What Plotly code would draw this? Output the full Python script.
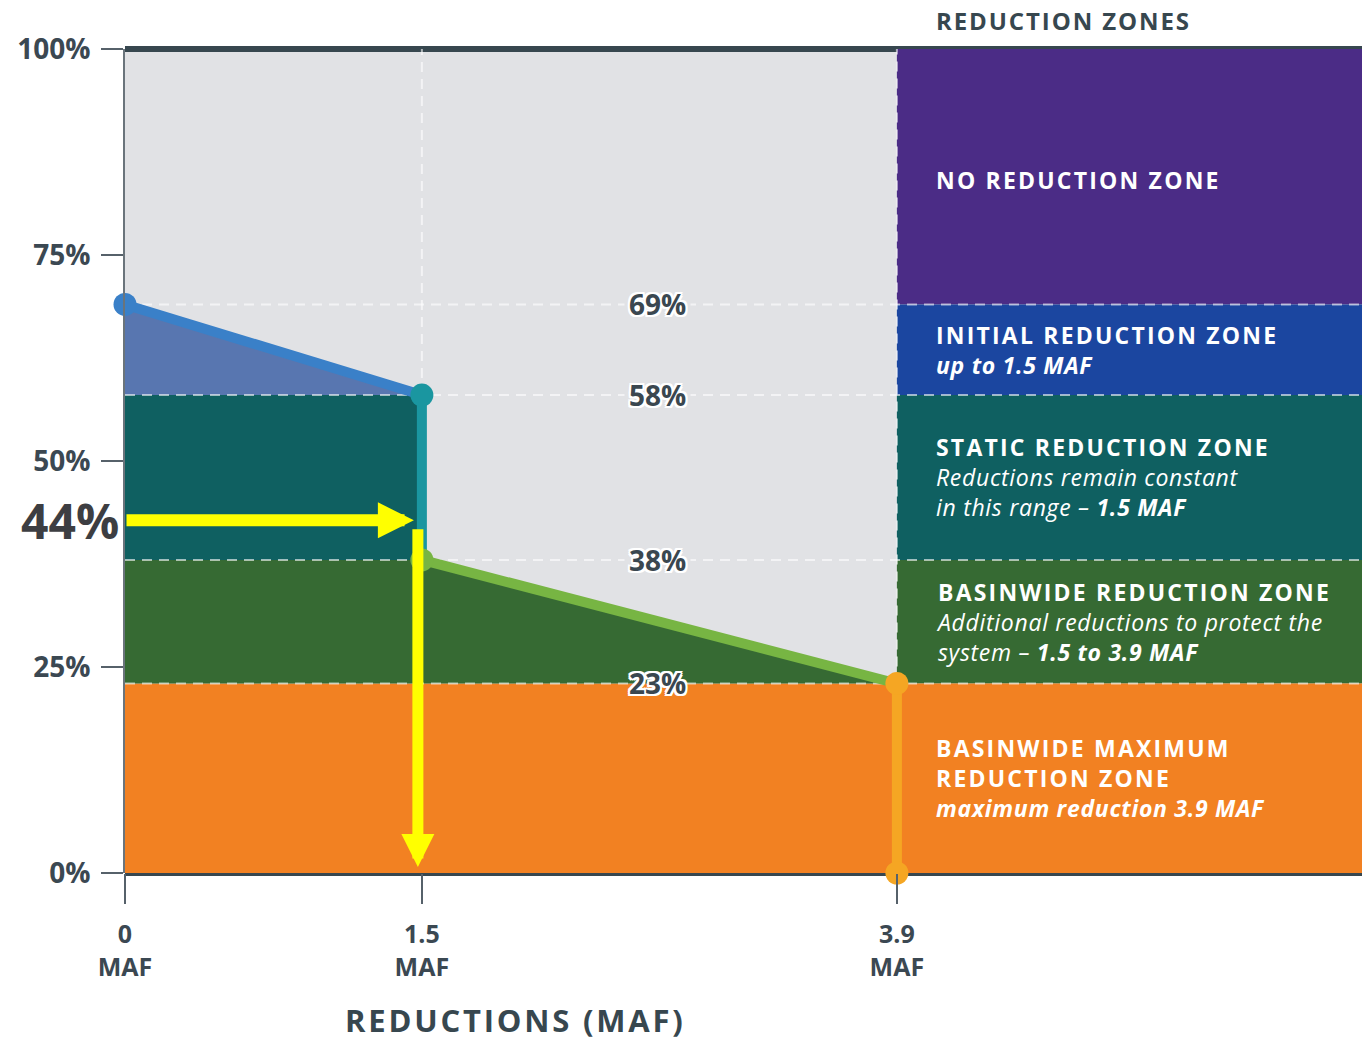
import plotly.graph_objects as go

# ---------------- data ----------------
REDUCTION_MAF = [0, 1.5, 3.9]                 # x breakpoints (MAF)
X_TICK_TEXT = ["0", "1.5", "3.9"]
X_TICK_UNIT = "MAF"
CURVE_X = [0, 1.5, 1.5, 3.9, 3.9]             # reduction curve (MAF)
CURVE_Y = [69, 58, 38, 23, 0]                 # percent
LEVELS = [69, 58, 38, 23]
LEVEL_LABELS = ["69%", "58%", "38%", "23%"]
Y_TICKS = [0, 25, 50, 75, 100]
Y_TICK_TEXT = ["0%", "25%", "50%", "75%", "100%"]
ZONE_LOW = [69, 58, 38, 23, 0]
ZONE_HIGH = [100, 69, 58, 38, 23]
ZONE_HEADERS = [
    ["NO REDUCTION ZONE"],
    ["INITIAL REDUCTION ZONE"],
    ["STATIC REDUCTION ZONE"],
    ["BASINWIDE REDUCTION ZONE"],
    ["BASINWIDE MAXIMUM", "REDUCTION ZONE"],
]
ZONE_NOTES = [
    [],
    ["<b><i>up to 1.5 MAF</i></b>"],
    ["<i>Reductions remain constant</i>", "<i>in this range – <b>1.5 MAF</b></i>"],
    ["<i>Additional reductions to protect the</i>", "<i>system – <b>1.5 to 3.9 MAF</b></i>"],
    ["<b><i>maximum reduction 3.9 MAF</i></b>"],
]
ARROW_Y = 42.8          # level of the yellow read-off arrow
ARROW_TAIL = 41.9       # start of the downward arrow
ARROW_LABEL = "44%"
ZONES_TITLE = "REDUCTION ZONES"
X_TITLE = "REDUCTIONS (MAF)"

# ---------------- styles ----------------
FONT = "Open Sans"
DARK = "#37474f"
GRAY_BG = "#e1e2e5"
ZONE_COLORS = ["#4b2c86", "#1b46a0", "#0f6061", "#366a33", "#f28122"]
LEFT_TRI = "#5876b0"
SEG_COLORS = ["#3a80c8", "#1a96a0", "#77b543", "#f5a623"]
XMAX = 6.25
DASH_COLOR = "rgba(255,255,255,0.6)"

fig = go.Figure()

x_split = REDUCTION_MAF[2]
x_mid = REDUCTION_MAF[1]

# right-hand zone bands
for lo, hi, c in zip(ZONE_LOW, ZONE_HIGH, ZONE_COLORS):
    fig.add_trace(go.Scatter(x=[x_split, XMAX, XMAX, x_split], y=[lo, lo, hi, hi],
                             fill="toself", fillcolor=c, mode="none",
                             hoverinfo="skip", showlegend=False))

# left side: orange band, green trapezoid, teal rectangle, blue triangle
fig.add_trace(go.Scatter(x=[0, x_split, x_split, 0], y=[0, 0, CURVE_Y[3], CURVE_Y[3]],
                         fill="toself", fillcolor=ZONE_COLORS[4], mode="none",
                         hoverinfo="skip", showlegend=False))
fig.add_trace(go.Scatter(x=[0, 0, CURVE_X[2], CURVE_X[3]],
                         y=[CURVE_Y[3], CURVE_Y[2], CURVE_Y[2], CURVE_Y[3]],
                         fill="toself", fillcolor=ZONE_COLORS[3], mode="none",
                         hoverinfo="skip", showlegend=False))
fig.add_trace(go.Scatter(x=[0, 0, CURVE_X[1], CURVE_X[2]],
                         y=[CURVE_Y[2], CURVE_Y[1], CURVE_Y[1], CURVE_Y[2]],
                         fill="toself", fillcolor=ZONE_COLORS[2], mode="none",
                         hoverinfo="skip", showlegend=False))
fig.add_trace(go.Scatter(x=[0, CURVE_X[0], CURVE_X[1]],
                         y=[CURVE_Y[1], CURVE_Y[0], CURVE_Y[1]],
                         fill="toself", fillcolor=LEFT_TRI, mode="none",
                         hoverinfo="skip", showlegend=False))

# dashed guide lines
for lv in LEVELS:
    fig.add_trace(go.Scatter(x=[0, XMAX], y=[lv, lv], mode="lines",
                             line=dict(color=DASH_COLOR, width=2, dash="10px,7px"),
                             hoverinfo="skip", showlegend=False))
for xv, yv in [(CURVE_X[1], CURVE_Y[1]), (CURVE_X[3], CURVE_Y[3])]:
    fig.add_trace(go.Scatter(x=[xv, xv], y=[yv, 100], mode="lines",
                             line=dict(color=DASH_COLOR, width=2, dash="10px,7px"),
                             hoverinfo="skip", showlegend=False))

# curve segments
for i, c in enumerate(SEG_COLORS):
    fig.add_trace(go.Scatter(x=CURVE_X[i:i + 2], y=CURVE_Y[i:i + 2], mode="lines",
                             line=dict(color=c, width=10),
                             hoverinfo="skip", showlegend=False))
# markers
MARKER_COLORS = [SEG_COLORS[0], SEG_COLORS[1], SEG_COLORS[2], SEG_COLORS[3], SEG_COLORS[3]]
fig.add_trace(go.Scatter(x=CURVE_X, y=CURVE_Y, mode="markers",
                         marker=dict(color=MARKER_COLORS, size=23, line=dict(width=0)),
                         hoverinfo="skip", showlegend=False, cliponaxis=False))

# top / bottom frame lines
for yp in [0, 1]:
    fig.add_shape(type="line", xref="paper", yref="paper", x0=0, x1=1, y0=yp, y1=yp,
                  line=dict(color=DARK, width=6), layer="below")

ann = []
# level labels
outline = ("-2px -2px 0 #fff, 2px -2px 0 #fff, -2px 2px 0 #fff, 2px 2px 0 #fff, "
           "0 2px 0 #fff, 2px 0 0 #fff, 0 -2px 0 #fff, -2px 0 0 #fff")
for i, (lv, lab) in enumerate(zip(LEVELS, LEVEL_LABELS)):
    ann.append(dict(x=2.69, y=lv, xref="x", yref="y", text=lab, showarrow=False,
                    font=dict(family=FONT, size=28, color="#3a4750", weight=700, shadow=outline),
                    bgcolor=GRAY_BG if i < 3 else None, borderpad=4))

# zone labels: one block per zone, uniform font size
HEAD_STYLE = "letter-spacing:2.2px"
NOTE_STYLE = "letter-spacing:0.7px"
for lo, hi, heads, notes in zip(ZONE_LOW, ZONE_HIGH, ZONE_HEADERS, ZONE_NOTES):
    parts = ['<b><span style="%s">%s</span></b>' % (HEAD_STYLE, t) for t in heads]
    parts += ['<span style="%s">%s</span>' % (NOTE_STYLE, t) for t in notes]
    ann.append(dict(x=x_split, y=(lo + hi) / 2, xref="x", yref="y",
                    xanchor="left", yanchor="middle", align="left",
                    xshift=37, yshift=-3 if len(parts) == 1 else 0,
                    text="<br>".join(parts), showarrow=False,
                    font=dict(family=FONT, size=23, color="white")))

# headers / titles
ann.append(dict(x=x_split, y=1, xref="x", yref="paper", xanchor="left", yanchor="middle",
                xshift=37, yshift=29, showarrow=False,
                text='<span style="letter-spacing:1.9px">%s</span>' % ZONES_TITLE,
                font=dict(family=FONT, size=24, color=DARK, weight=700)))
ann.append(dict(x=0.316, y=0, xref="paper", yref="paper", xanchor="center", yanchor="middle",
                yshift=-147, showarrow=False,
                text='<span style="letter-spacing:2.8px">%s</span>' % X_TITLE,
                font=dict(family=FONT, size=31, color=DARK, weight=700)))

# yellow read-off arrows
ann.append(dict(x=x_mid, y=ARROW_Y, ax=0, ay=ARROW_Y, xref="x", yref="y", axref="x", ayref="y",
                text="", showarrow=True, arrowhead=2, arrowsize=0.6, arrowwidth=12,
                arrowcolor="#ffff00", standoff=8))
ann.append(dict(x=x_mid, y=0, ax=x_mid, ay=ARROW_TAIL, xref="x", yref="y", axref="x", ayref="y",
                text="", showarrow=True, arrowhead=2, arrowsize=0.6, arrowwidth=11,
                arrowcolor="#ffff00", standoff=6, xshift=-4))
ann.append(dict(x=0, y=ARROW_Y, xref="x", yref="y", xanchor="right", yanchor="middle",
                xshift=-4, showarrow=False, text=ARROW_LABEL,
                font=dict(family=FONT, size=48, color="#3d3e42", weight=700)))

# two-line x tick labels
x_tick_labels = ["%s<br>%s" % (t, X_TICK_UNIT) for t in X_TICK_TEXT]

fig.update_layout(
    width=1362, height=1040,
    margin=dict(l=125, r=0, t=49, b=167, pad=0),
    paper_bgcolor="white", plot_bgcolor=GRAY_BG,
    showlegend=False,
    annotations=ann,
    xaxis=dict(range=[0, XMAX], tickvals=REDUCTION_MAF, ticktext=x_tick_labels,
               ticks="outside", ticklen=30, tickwidth=2, tickcolor="#56616a",
               showgrid=False, zeroline=False, showline=False, fixedrange=True,
               ticklabelstandoff=9,
               tickfont=dict(family=FONT, size=25, color="#3b4852", weight=700)),
    yaxis=dict(range=[0, 100], tickvals=Y_TICKS, ticktext=Y_TICK_TEXT,
               ticks="outside", ticklen=22, tickwidth=2, tickcolor="#56616a",
               showline=True, linecolor="#6a747b", linewidth=2,
               showgrid=False, zeroline=False, fixedrange=True, ticklabelstandoff=5,
               tickfont=dict(family=FONT, size=28, color="#3b4852", weight=700)),
)

fig.write_html("out.html", config={"displayModeBar": False},
               post_script="document.body.style.margin='0';")
